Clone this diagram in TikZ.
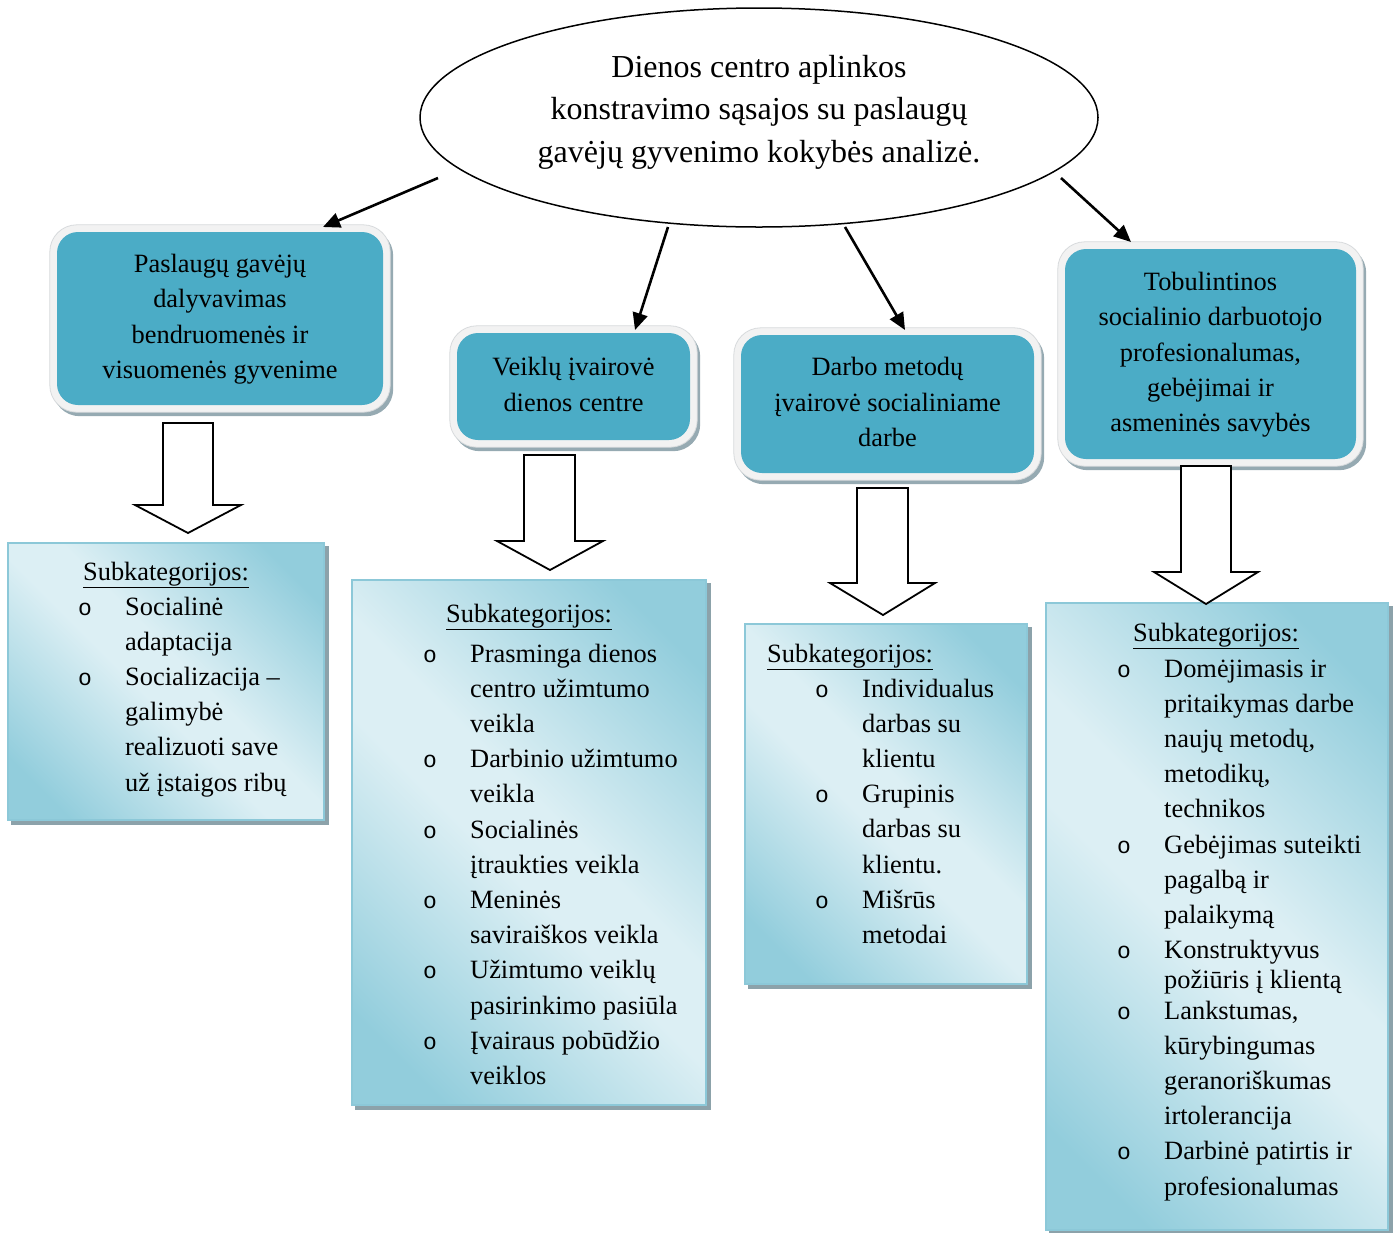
\documentclass[tikz,border=0pt]{standalone}
\usepackage{fontspec}
\setmainfont{Liberation Serif}
\newfontfamily\monof{Liberation Mono}
\usetikzlibrary{arrows.meta,shapes.geometric,backgrounds}
\definecolor{teal5}{RGB}{75,172,198}
\definecolor{ringc}{RGB}{242,242,242}
\definecolor{ringd}{RGB}{215,218,220}
\definecolor{shadc}{RGB}{150,170,178}
\definecolor{gdark}{RGB}{146,205,220}
\definecolor{glight}{RGB}{220,239,244}
\definecolor{gbord}{RGB}{140,200,216}
\definecolor{gshad}{RGB}{140,162,170}
\pgfdeclarehorizontalshading{cyangrad}{100bp}{color(0bp)=(gdark); color(22bp)=(gdark); color(46bp)=(glight); color(54bp)=(glight); color(78bp)=(gdark); color(100bp)=(gdark)}
\newcommand{\bfnt}{\fontsize{26.4}{35.2}\selectfont}
\newcommand{\efnt}{\fontsize{32}{42.5}\selectfont}
\newcommand{\ctab}[1]{\begin{tabular}{@{}c@{}}#1\end{tabular}}
\newcommand{\ltab}[1]{\begin{tabular}[t]{@{}l@{}l@{}}#1\end{tabular}}
\newcommand{\bu}{\makebox[48pt][l]{\hspace*{1pt}\monof\fontsize{23}{35.2}\selectfont o}}
\newcommand{\ringfor}[1]{%
  \fill[shadc, rounded corners=27] ([shift={(-4,-3)}]#1.north west) rectangle ([shift={(10,11)}]#1.south east);
  \draw[ringd, fill=ringc, line width=0.8, rounded corners=27] ([shift={(-7,-7)}]#1.north west) rectangle ([shift={(7,7)}]#1.south east);}
\newcommand{\shadfor}[1]{%
  \fill[gshad] ([shift={(4,4)}]#1.north west) rectangle ([shift={(4,4)}]#1.south east);}
\tikzset{
  tealbox/.style={fill=teal5, rounded corners=21, inner sep=0, font=\bfnt},
  gbox/.style={draw=gbord, line width=1.2, shading=cyangrad, shading angle=45, inner sep=0},
  txt/.style={inner sep=0, font=\bfnt},
  arr/.style={line width=2.6, -{Triangle[length=17pt,width=15pt]}},
  barrow/.style={draw=black, fill=white, line width=1.8, line join=miter}
}
\begin{document}
\begin{tikzpicture}[x=1pt,y=-1pt]
\useasboundingbox (0,0) rectangle (1396,1232);
\clip (0,0) rectangle (1396,1232);

% main ellipse
\node[draw, ellipse, line width=1.5, minimum width=678, minimum height=219, inner sep=0] (main) at (759,117.5) {};
\node[anchor=base, inner sep=0, font=\efnt] (maintxt) at (759,77) {\begin{tabular}[t]{@{}c@{}}Dienos centro aplinkos\\konstravimo sąsajos su paslaugų\\gavėjų gyvenimo kokybės analizė.\end{tabular}};

% category boxes
\node[tealbox, minimum width=326, minimum height=173] (b1) at (220,318.5) {\ctab{Paslaugų gavėjų\\dalyvavimas\\bendruomenės ir\\visuomenės gyvenime}};
\node[tealbox, minimum width=233, minimum height=107] (b2) at (573.5,386.5) {\ctab{Veiklų įvairovė\\dienos centre}};
\node[tealbox, minimum width=293, minimum height=138] (b3) at (887.5,404) {\ctab{Darbo metodų\\įvairovė socialiniame\\darbe}};
\node[tealbox, minimum width=291, minimum height=210] (b4) at (1210.5,354) {\ctab{Tobulintinos\\socialinio darbuotojo\\profesionalumas,\\gebėjimai ir\\asmeninės savybės}};

% subcategory boxes
\node[gbox, minimum width=316, minimum height=277] (s1) at (166,681.5) {};
\node[gbox, minimum width=354, minimum height=525] (s2) at (529,842.5) {};
\node[gbox, minimum width=282, minimum height=360] (s3) at (886,804) {};
\node[gbox, minimum width=342, minimum height=627] (s4) at (1217,916.5) {};

\begin{scope}[on background layer]
\ringfor{b1}\ringfor{b2}\ringfor{b3}\ringfor{b4}
\shadfor{s1}\shadfor{s2}\shadfor{s3}\shadfor{s4}
\end{scope}

% connectors
\coordinate (a1s) at (438,178); \coordinate (a1e) at (323,227);
\coordinate (a2s) at (668,227); \coordinate (a2e) at (635,330);
\coordinate (a3s) at (845,227); \coordinate (a3e) at (905,330);
\coordinate (a4s) at (1061,178); \coordinate (a4e) at (1131,242);
\draw[arr] (a1s) -- (a1e);
\draw[arr] (a2s) -- (a2e);
\draw[arr] (a3s) -- (a3e);
\draw[arr] (a4s) -- (a4e);

% block arrows
\draw[barrow] (163,423) -- (213,423) -- (213,505) -- (241,505) -- (188,533) -- (135,505) -- (163,505) -- cycle;
\draw[barrow] (524,455) -- (575,455) -- (575,541) -- (603,541) -- (550,570) -- (497,541) -- (524,541) -- cycle;
\draw[barrow] (857,488) -- (908,488) -- (908,583) -- (935,583) -- (883,615) -- (830,583) -- (857,583) -- cycle;
\draw[barrow] (1181,466) -- (1231,466) -- (1231,572) -- (1258,572) -- (1206,604) -- (1154,572) -- (1181,572) -- cycle;

% headings
\node[txt, anchor=base] (h1) at (166,580) {\underline{Subkategorijos:}};
\node[txt, anchor=base] (h2) at (529,622) {\underline{Subkategorijos:}};
\node[txt, anchor=base west] (h3) at (767,662) {\underline{Subkategorijos:}};
\node[txt, anchor=base] (h4) at (1216,641) {\underline{Subkategorijos:}};

% lists
\node[txt, anchor=base west] (l1) at (77,615) {\ltab{\bu & Socialinė\\ & adaptacija\\ \bu & Socializacija –\\ & galimybė\\ & realizuoti save\\ & už įstaigos ribų}};
\node[txt, anchor=base west] (l2) at (422,662) {\ltab{\bu & Prasminga dienos\\ & centro užimtumo\\ & veikla\\ \bu & Darbinio užimtumo\\ & veikla\\ \bu & Socialinės\\ & įtraukties veikla\\ \bu & Meninės\\ & saviraiškos veikla\\ \bu & Užimtumo veiklų\\ & pasirinkimo pasiūla\\ \bu & Įvairaus pobūdžio\\ & veiklos}};
\node[txt, anchor=base west] (l3) at (814,697) {\ltab{\bu & Individualus\\ & darbas su\\ & klientu\\ \bu & Grupinis\\ & darbas su\\ & klientu.\\ \bu & Mišrūs\\ & metodai}};
\node[txt, anchor=base west] (l4) at (1116,677) {\ltab{\bu & Domėjimasis ir\\ & pritaikymas darbe\\ & naujų metodų,\\ & metodikų,\\ & technikos\\ \bu & Gebėjimas suteikti\\ & pagalbą ir\\ & palaikymą\\ \bu & Konstruktyvus\\[-5pt] & požiūris į klientą\\[-5pt] \bu & Lankstumas,\\ & kūrybingumas\\ & geranoriškumas\\ & irtolerancija\\ \bu & Darbinė patirtis ir\\ & profesionalumas}};
\end{tikzpicture}
\end{document}
